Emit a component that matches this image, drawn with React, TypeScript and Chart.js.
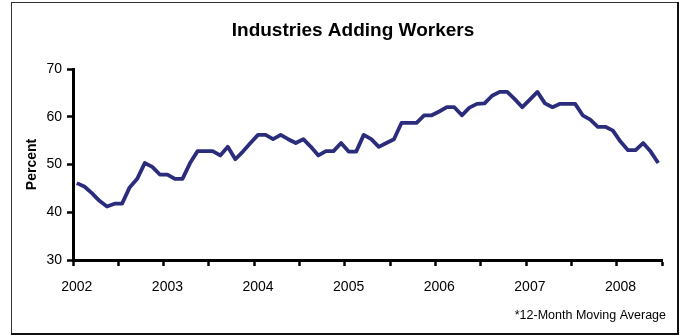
import React, { useEffect, useRef } from "react";
import { Chart, registerables } from "chart.js";

Chart.register(...registerables);

const TITLE = "Industries Adding Workers";
const FOOTNOTE = "*12-Month Moving Average";
const Y_TITLE = "Percent";

// Monthly categories, Jan 2002 .. Jun 2008
const categories: string[] = [];
for (let y = 2002; y <= 2008; y++) {
  for (let m = 1; m <= 12; m++) {
    if (y === 2008 && m > 6) break;
    categories.push(`${y}-${String(m).padStart(2, "0")}`);
  }
}

// Percent of industries adding workers (12-month moving average)
const values2002 = [46.1, 45.4, 44.0, 42.4, 41.2, 41.8, 41.8, 45.2, 47.0, 50.3, 49.5, 47.9];
const values2003 = [47.9, 47.0, 47.0, 50.3, 52.8, 52.8, 52.8, 51.9, 53.7, 51.1, 52.7, 54.5];
const values2004 = [56.2, 56.2, 55.3, 56.2, 55.3, 54.5, 55.3, 53.7, 51.9, 52.8, 52.8, 54.5];
const values2005 = [52.7, 52.7, 56.2, 55.3, 53.7, 54.5, 55.3, 58.7, 58.7, 58.7, 60.3, 60.3];
const values2006 = [61.1, 62.0, 62.0, 60.3, 61.9, 62.7, 62.8, 64.4, 65.2, 65.2, 63.7, 62.0];
const values2007 = [63.6, 65.2, 62.8, 62.0, 62.7, 62.7, 62.7, 60.3, 59.4, 57.9, 57.9, 57.1];
const values2008 = [54.8, 53.0, 53.0, 54.5, 52.7, 50.3];

const seriesValues = [
  ...values2002,
  ...values2003,
  ...values2004,
  ...values2005,
  ...values2006,
  ...values2007,
  ...values2008,
];

const yTicks = [30, 40, 50, 60, 70];
const yearLabels = ["2002", "2003", "2004", "2005", "2006", "2007", "2008"];

const LINE_COLOR = "#2b2d7c";
const FONT = "'Liberation Sans', Arial, Helvetica, sans-serif";

const decorPlugin = {
  id: "decor",
  afterDraw(chart: any) {
    const ctx = chart.ctx as CanvasRenderingContext2D;
    ctx.save();
    // frame
    ctx.strokeStyle = "#333";
    ctx.lineWidth = 1;
    ctx.strokeRect(11.5, 2.5, 666, 331);
    ctx.strokeStyle = "#111";
    ctx.lineWidth = 2;
    ctx.beginPath();
    ctx.moveTo(678, 2);
    ctx.lineTo(678, 334);
    ctx.lineTo(11, 334);
    ctx.stroke();
    // title
    ctx.fillStyle = "#000";
    ctx.font = `bold 19px ${FONT}`;
    ctx.textAlign = "center";
    ctx.textBaseline = "alphabetic";
    ctx.fillText(TITLE, 353, 36);
    // footnote
    ctx.font = `12.5px ${FONT}`;
    ctx.textAlign = "right";
    ctx.fillText(FOOTNOTE, 666, 319);
    ctx.restore();
  },
};

export default function App() {
  const canvasRef = useRef<HTMLCanvasElement | null>(null);

  useEffect(() => {
    if (!canvasRef.current) return;
    const points = seriesValues.map((v, i) => ({ x: i + 0.5, y: v }));
    const nCats = categories.length;
    const chart = new Chart(canvasRef.current, {
      type: "line",
      data: {
        datasets: [
          {
            label: TITLE,
            data: points,
            borderColor: LINE_COLOR,
            borderWidth: 3.8,
            pointRadius: 0,
            tension: 0,
            fill: false,
            borderJoinStyle: "round",
            borderCapStyle: "butt",
          },
        ],
      },
      options: {
        responsive: false,
        animation: false,
        events: [],
        layout: { padding: { top: 69, right: 21, bottom: 0, left: 0 } },
        plugins: {
          legend: { display: false },
          tooltip: { enabled: false },
          title: { display: false },
        },
        scales: {
          x: {
            type: "linear",
            min: 0,
            max: nCats,
            afterFit: (scale: any) => {
              scale.height = 75;
            },
            afterBuildTicks: (scale: any) => {
              const t = [];
              for (let v = 0; v <= nCats; v += 6) t.push({ value: v });
              scale.ticks = t;
            },
            ticks: {
              autoSkip: false,
              maxRotation: 0,
              padding: 13,
              labelOffset: 3.8,
              color: "#000",
              font: { family: FONT, size: 14 },
              callback: (value: any) => {
                const v = Number(value);
                if (v % 12 === 0 && v < nCats) return yearLabels[v / 12];
                return "";
              },
            },
            grid: {
              drawOnChartArea: false,
              drawTicks: true,
              tickLength: 6,
              tickWidth: 2.5,
              tickColor: "#000",
            },
            border: { display: true, color: "#000", width: 3 },
          },
          y: {
            min: 30,
            max: 70,
            afterFit: (scale: any) => {
              scale.width = 73;
            },
            afterBuildTicks: (scale: any) => {
              scale.ticks = yTicks.map((v) => ({ value: v }));
            },
            ticks: {
              padding: 5,
              color: "#000",
              font: { family: FONT, size: 14 },
            },
            grid: {
              drawOnChartArea: false,
              drawTicks: true,
              tickLength: 6,
              tickWidth: 2.5,
              tickColor: "#000",
            },
            border: { display: true, color: "#000", width: 3 },
            title: {
              display: true,
              text: Y_TITLE,
              color: "#000",
              font: { family: FONT, size: 14, weight: "bold" },
              padding: { top: 23.6, bottom: 0 },
            },
          },
        },
      },
      plugins: [decorPlugin],
    });
    return () => chart.destroy();
  }, []);

  return (
    <div style={{ position: "absolute", left: 0, top: 0, width: 683, height: 335, background: "#fff" }}>
      <canvas ref={canvasRef} width={683} height={335} style={{ display: "block" }} />
    </div>
  );
}
